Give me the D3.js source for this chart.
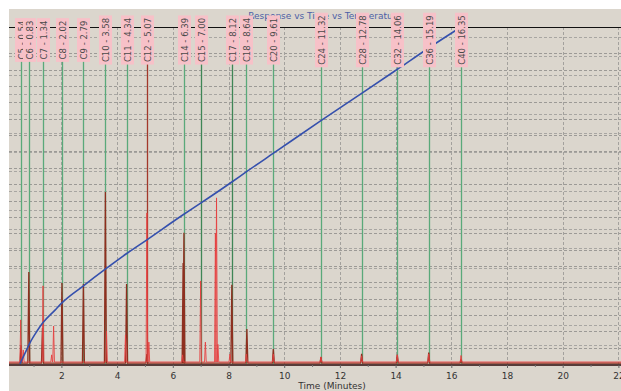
<!DOCTYPE html>
<html><head><meta charset="utf-8">
<script src="https://cdn.jsdelivr.net/npm/d3@7"></script>
<style>body{margin:0;background:#fff}svg{display:block}</style>
</head><body>
<script>
// ---------- data ----------
const title = "Response vs Time vs Temperature";
const xLabel = "Time (Minutes)";
const xTicks = [2,4,6,8,10,12,14,16,18,20,22];
const peakNames = ["C5","C6","C7","C8","C9","C10","C11","C12","C14","C15","C17","C18","C20","C24","C28","C32","C36","C40"];
const peakTimes = [0.54,0.83,1.34,2.02,2.79,3.58,4.34,5.07,6.39,7.00,8.12,8.64,9.61,11.32,12.78,14.06,15.19,16.35];
// red trace peaks [time, response]
const redPeakTimes  = [0.54,0.63,1.34,1.65,1.72,3.62,4.30,5.07,5.14,6.35,7.00,7.17,7.53,7.57,7.62,8.05,8.64,9.61,11.32,12.78,14.06,15.19,16.35];
const redPeakValues = [13.5,4.3,23.9,2.8,11.6,10.0,8.9,46.2,6.7,2.8,25.4,6.7,40.0,50.8,6.0,3.0,3.0,3.0,2.2,2.5,2.8,3.1,2.6];
// dark trace peaks
const darkPeakTimes  = [0.55,0.83,1.32,2.02,2.79,3.58,4.34,5.07,6.37,6.40,8.12,8.66,9.61,11.32,12.78,14.06,15.19,16.35];
const darkPeakValues = [5.8,28.1,11.0,24.8,24.5,52.6,24.5,3.0,30.9,40.1,24.2,10.7,4.6,2.1,3.1,2.8,3.5,1.5];
// temperature program
const tempTimes  = [0.51,0.69,0.87,1.12,1.34,1.77,2.00,2.78,3.60,4.36,5.07,6.37,7.00,8.12,8.66,9.67,11.28,12.78,14.16,15.23,16.35];
const tempValues = [0,11,22,34,43,56,63,81,99,115,129,155,167,189,200,220,252,281,308,329,350];

// ---------- layout ----------
const W = 621, H = 391;
const plot = {left: 9, top: 27, right: 621, bottom: 364};
const svg = d3.select("body").append("svg").attr("width", W).attr("height", H)
  .style("font-family", "'DejaVu Sans', Verdana, sans-serif");

svg.append("rect").attr("x", 9).attr("y", 9).attr("width", W - 9).attr("height", H - 9).attr("fill", "#dbd6cd");

const x = d3.scaleLinear().domain([0, 22]).range([5.7, 618.4]);
const yR = d3.scaleLinear().domain([0, 103.06]).range([plot.bottom, plot.top]);
const yT = d3.scaleLinear().domain([0, 350]).range([plot.bottom, plot.top]);

svg.append("defs").append("clipPath").attr("id", "clip")
  .append("rect").attr("x", plot.left).attr("y", plot.top - 1).attr("width", plot.right - plot.left).attr("height", plot.bottom - plot.top + 2);

const g = svg.append("g").attr("clip-path", "url(#clip)");

// horizontal grid (response)
g.selectAll("line.gr").data(d3.range(5, 101, 5)).join("line")
  .attr("x1", plot.left).attr("x2", plot.right)
  .attr("y1", d => Math.round(yR(d)) + 0.5).attr("y2", d => Math.round(yR(d)) + 0.5)
  .attr("stroke", "#9c9a96").attr("stroke-dasharray", "3,2");
// horizontal grid (temperature)
g.selectAll("line.gt").data(d3.range(20, 341, 20)).join("line")
  .attr("x1", plot.left).attr("x2", plot.right)
  .attr("y1", d => Math.round(yT(d)) + 0.5).attr("y2", d => Math.round(yT(d)) + 0.5)
  .attr("stroke", "#a8a6a2").attr("stroke-dasharray", "3,2");
// vertical grid
g.selectAll("line.gv").data(xTicks).join("line")
  .attr("x1", d => Math.round(x(d)) + 0.5).attr("x2", d => Math.round(x(d)) + 0.5)
  .attr("y1", plot.top).attr("y2", plot.bottom)
  .attr("stroke", "#a3a19d").attr("stroke-dasharray", "3,2");

// top frame line
svg.append("line").attr("x1", plot.left).attr("x2", plot.right).attr("y1", plot.top + 0.5).attr("y2", plot.top + 0.5)
  .attr("stroke", "#111").attr("stroke-width", 1);

// title
svg.append("text").attr("x", 325).attr("y", 19).attr("text-anchor", "middle")
  .attr("font-size", 9).attr("fill", "#4d5fa6").text(title);

// peak marker lines
const markerColor = (n) => n === "C12" ? "#a3382a" : ((n === "C15" || n === "C17") ? "#3f8656" : "#5aa97a");
g.selectAll("line.mk").data(peakTimes).join("line")
  .attr("x1", d => Math.round(x(d)) + 0.5).attr("x2", d => Math.round(x(d)) + 0.5)
  .attr("y1", 60).attr("y2", plot.bottom)
  .attr("stroke", (d, i) => markerColor(peakNames[i])).attr("stroke-width", 1.3);

// traces built from the peak arrays
function tracePath(times, values, base, hw) {
  const pts = [[0, base]];
  const order = d3.range(times.length).sort((a, b) => times[a] - times[b]);
  order.forEach(i => {
    pts.push([times[i] - hw, base]);
    pts.push([times[i], values[i]]);
    pts.push([times[i] + hw, base]);
  });
  pts.push([22.5, base]);
  return d3.line().x(d => x(d[0])).y(d => yR(d[1]))(pts);
}
g.append("path").attr("d", tracePath(darkPeakTimes, darkPeakValues, 0.25, 0.035))
  .attr("fill", "none").attr("stroke", "#8e2f1f").attr("stroke-width", 1.3);
g.append("path").attr("d", tracePath(redPeakTimes, redPeakValues, 0.6, 0.03))
  .attr("fill", "none").attr("stroke", "#e64040").attr("stroke-width", 1).attr("opacity", 0.9);

// temperature curve
g.append("path").datum(d3.range(tempTimes.length))
  .attr("d", d3.line().x(i => x(tempTimes[i])).y(i => yT(tempValues[i])).curve(d3.curveMonotoneX))
  .attr("fill", "none").attr("stroke", "#3550ad").attr("stroke-width", 1.6);

// x axis
svg.append("line").attr("x1", plot.left).attr("x2", plot.right).attr("y1", plot.bottom + 1).attr("y2", plot.bottom + 1)
  .attr("stroke", "#2a0a08").attr("stroke-width", 1.5);
const axis = svg.append("g").attr("transform", `translate(0,${plot.bottom + 1})`)
  .call(d3.axisBottom(x).tickValues(xTicks).tickSize(3).tickFormat(d3.format("d")));
axis.select(".domain").remove();
axis.selectAll("line").attr("stroke", "#666");
axis.selectAll("text").attr("font-size", 9).attr("fill", "#333").attr("font-family", "'DejaVu Sans', Verdana, sans-serif").attr("dy", "0.9em");
svg.append("g").attr("transform", `translate(0,${plot.bottom + 1})`)
  .call(d3.axisBottom(x).tickValues(d3.range(1, 23, 2)).tickSize(2).tickFormat(""))
  .call(a => a.select(".domain").remove())
  .selectAll("line").attr("stroke", "#777");

svg.append("text").attr("x", 332).attr("y", 389).attr("text-anchor", "middle")
  .attr("font-size", 9).attr("fill", "#333").text(xLabel);

// peak labels
const labelFont = 8.5;
const lab = svg.append("g").selectAll("g").data(peakTimes).join("g")
  .attr("transform", d => `translate(${Math.round(x(d)) + 0.5},40)`);
lab.each(function(d, i) {
  const s = d3.select(this);
  const txt = `${peakNames[i]} - ${d.toFixed(2)}`;
  const r = s.append("rect").attr("fill", "#f7c1c8");
  const t = s.append("text").attr("transform", "rotate(-90)")
    .attr("text-anchor", "middle").attr("dy", "0.36em")
    .attr("font-size", labelFont).attr("fill", "#4a4a4a").text(txt);
  const len = t.node().getComputedTextLength();
  r.attr("x", -6.5).attr("width", 13).attr("y", -len / 2 - 2.5).attr("height", len + 5);
});
</script>
</body></html>
